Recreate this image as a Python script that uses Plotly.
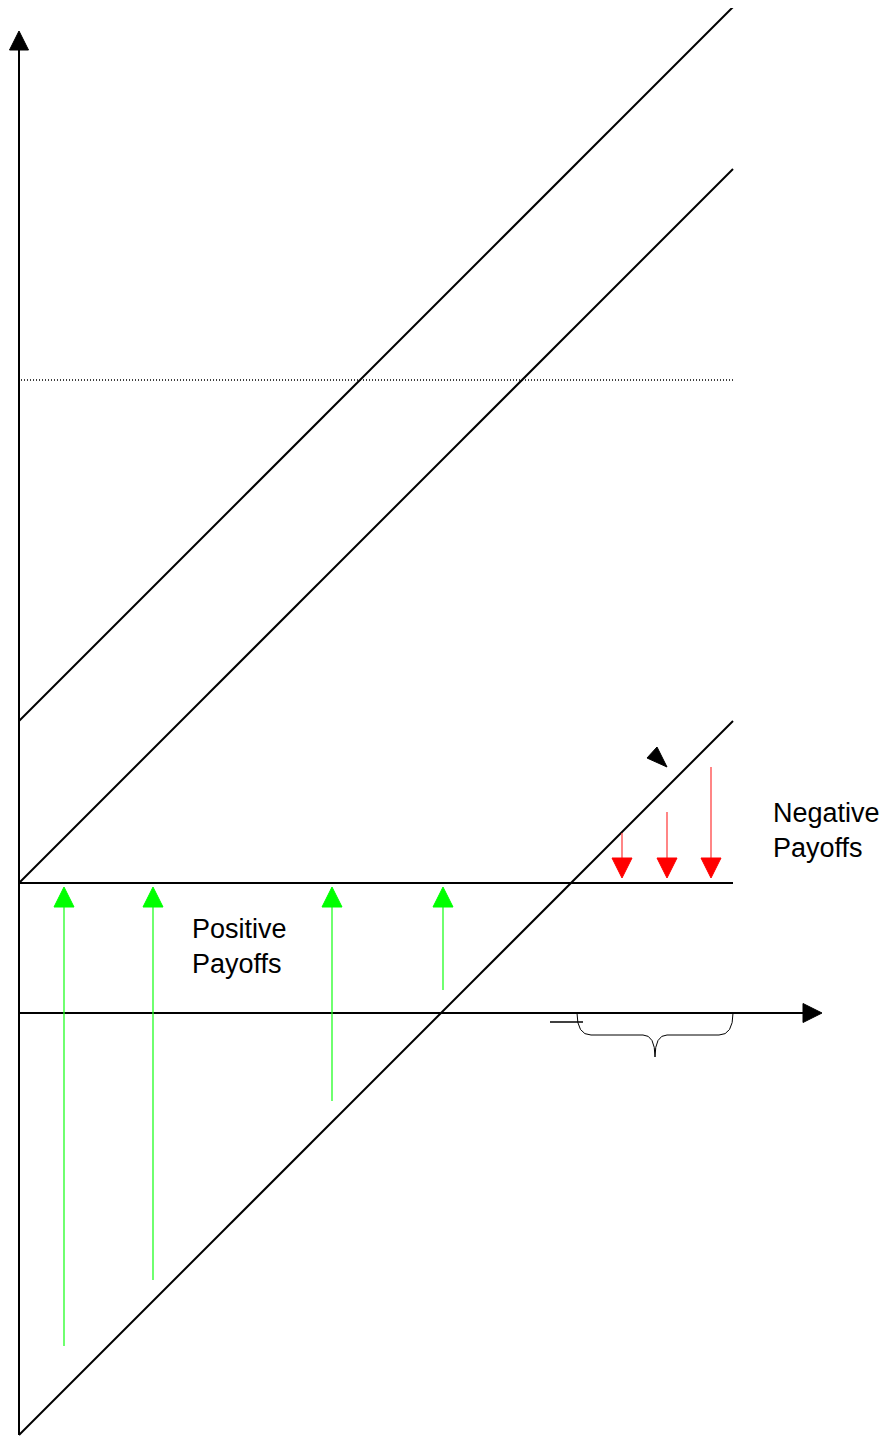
import plotly.graph_objects as go

# payoff lines, all with slope 1: y = x + intercept
line_intercepts = [292, 130, -422]
line_x_end = 714

strike_level = 130
dotted_level = 633

# green arrows (positive payoffs), point up to the strike line
green_x = [45, 134, 313, 424]
green_low = [-333, -267, -88, 23]
green_high = 126

# red arrows (negative payoffs), point down to the strike line
red_x = [603, 648, 692]
red_high = [180, 201, 246]
red_low = 135

axis_x_end = 803
axis_y_top = 982
axis_y_bottom = -422


def head(xt, yt, d, w=20, h=20):
    # triangle arrow head, tip at (xt, yt), d = 'up' / 'down' / 'right'
    if d == "up":
        return [xt - w / 2, xt, xt + w / 2, xt - w / 2], [yt - h, yt, yt - h, yt - h]
    if d == "down":
        return [xt - w / 2, xt, xt + w / 2, xt - w / 2], [yt + h, yt, yt + h, yt + h]
    return [xt - h, xt, xt - h, xt - h], [yt - w / 2, yt, yt + w / 2, yt - w / 2]


def tri(fig, xs, ys, color):
    fig.add_trace(go.Scatter(x=xs, y=ys, mode="lines", fill="toself",
                             fillcolor=color, line=dict(color=color, width=1),
                             hoverinfo="skip"))


fig = go.Figure()

# axes
fig.add_trace(go.Scatter(x=[0, 0], y=[axis_y_bottom, axis_y_top - 18], mode="lines",
                         line=dict(color="black", width=2)))
tri(fig, *head(0, axis_y_top, "up", 19, 19), "black")
fig.add_trace(go.Scatter(x=[0, axis_x_end - 18], y=[0, 0], mode="lines",
                         line=dict(color="black", width=2)))
tri(fig, *head(axis_x_end, 0, "right", 19, 19), "black")

# diagonal payoff lines
for b in line_intercepts:
    fig.add_trace(go.Scatter(x=[0, line_x_end], y=[b, line_x_end + b], mode="lines",
                             line=dict(color="black", width=2)))

# strike line and dotted level
fig.add_trace(go.Scatter(x=[0, line_x_end], y=[strike_level, strike_level], mode="lines",
                         line=dict(color="black", width=2)))
fig.add_trace(go.Scatter(x=[2, line_x_end], y=[dotted_level, dotted_level], mode="lines",
                         line=dict(color="black", width=1.5, dash="1px,2px")))

# green arrows
for x, lo in zip(green_x, green_low):
    fig.add_trace(go.Scatter(x=[x, x], y=[lo, green_high - 18], mode="lines",
                             line=dict(color="#22ff22", width=1.3)))
    tri(fig, *head(x, green_high, "up"), "#00ff00")

# red arrows
for x, hi in zip(red_x, red_high):
    fig.add_trace(go.Scatter(x=[x, x], y=[hi, red_low + 18], mode="lines",
                             line=dict(color="#ff4444", width=1.3)))
    tri(fig, *head(x, red_low, "down"), "#ff0000")

# small black pointer
tri(fig, [628, 638, 648, 628], [255, 266, 246, 255], "black")

# small tick next to brace
fig.add_trace(go.Scatter(x=[531, 564], y=[-9, -9], mode="lines",
                         line=dict(color="black", width=1.5)))

# brace under the x axis
fig.add_shape(type="path", xref="x", yref="y",
              path="M 558,0 Q 558,-22 572,-22 L 624,-22 Q 636,-22 636,-44 "
                   "Q 636,-22 648,-22 L 700,-22 Q 714,-22 714,0",
              line=dict(color="black", width=1))

font = dict(family="Liberation Sans, Arial", size=27, color="black")
fig.add_annotation(x=752, y=217, xref="x", yref="y", xanchor="left", yanchor="top",
                   text="Negative<br>Payoffs", showarrow=False, align="left", font=font)
fig.add_annotation(x=171, y=101, xref="x", yref="y", xanchor="left", yanchor="top",
                   text="Positive<br>Payoffs", showarrow=False, align="left", font=font)

# the page body adds an 8px offset, so the ranges are shifted to compensate
fig.update_xaxes(visible=False, range=[-11, 879])
fig.update_yaxes(visible=False, range=[-432, 1005])
fig.update_layout(width=890, height=1437, margin=dict(l=0, r=0, t=0, b=0),
                  plot_bgcolor="white", paper_bgcolor="white", showlegend=False)

fig.write_html("out.html")
